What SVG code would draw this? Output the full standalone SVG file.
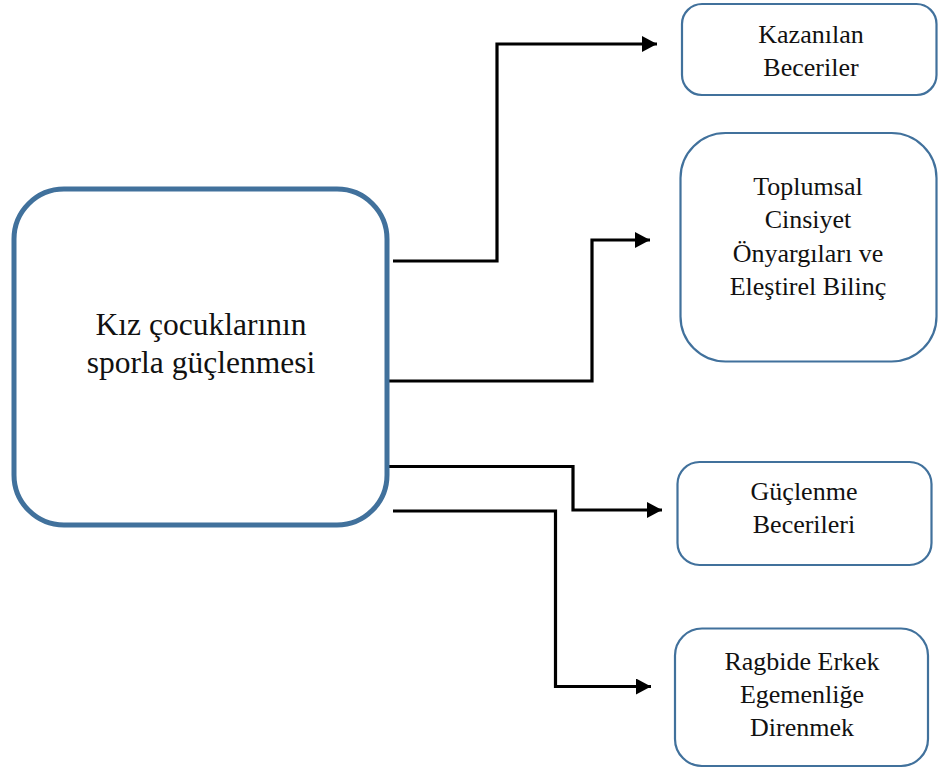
<svg xmlns="http://www.w3.org/2000/svg" width="938" height="769" viewBox="0 0 938 769">
<style>
.box{fill:#fff;stroke:#41719c;stroke-width:2.2}
.main{fill:#fff;stroke:#41719c;stroke-width:5}
.t{font-family:"Liberation Serif","Times New Roman",serif;font-size:26px;fill:#111;text-anchor:middle}
.tm{font-family:"Liberation Serif","Times New Roman",serif;font-size:31.5px;fill:#111;text-anchor:middle}
.c{fill:none;stroke:#000;stroke-width:3.2;marker-end:url(#ah)}
</style>
<defs>
<marker id="ah" markerUnits="userSpaceOnUse" markerWidth="16" markerHeight="17" refX="15" refY="8" orient="auto">
<path d="M0,0 L15,8 L0,16 z" fill="#000"/>
</marker>
</defs>
<rect width="938" height="769" fill="#fff"/>
<g id="connectors">
<path class="c" d="M393,261 H497 V44 H657"/>
<path class="c" d="M389,381 H592 V240 H650"/>
<path class="c" d="M389,466.5 H573 V510 H662"/>
<path class="c" d="M393,511 H555.5 V686.5 H651"/>
</g>
<g id="main">
<rect class="main" x="14" y="189" width="373" height="336" rx="50" ry="50"/>
<text class="tm" x="201" y="335">Kız çocuklarının</text>
<text class="tm" x="201" y="373">sporla güçlenmesi</text>
</g>
<g id="kazanilan">
<rect class="box" x="682" y="4" width="254.5" height="91" rx="20" ry="20"/>
<text class="t" x="811" y="43">Kazanılan</text>
<text class="t" x="811" y="76">Beceriler</text>
</g>
<g id="toplumsal">
<rect class="box" x="680.5" y="133" width="256" height="228.5" rx="45" ry="45"/>
<text class="t" x="808" y="195">Toplumsal</text>
<text class="t" x="808" y="228">Cinsiyet</text>
<text class="t" x="808" y="262">Önyargıları ve</text>
<text class="t" x="808" y="295">Eleştirel Bilinç</text>
</g>
<g id="guclenme">
<rect class="box" x="677.5" y="462" width="254" height="103" rx="22" ry="22"/>
<text class="t" x="804" y="500">Güçlenme</text>
<text class="t" x="804" y="533">Becerileri</text>
</g>
<g id="ragbide">
<rect class="box" x="675" y="628.5" width="253" height="137.5" rx="27" ry="27"/>
<text class="t" x="802" y="670">Ragbide Erkek</text>
<text class="t" x="802" y="703">Egemenliğe</text>
<text class="t" x="802" y="736">Direnmek</text>
</g>
</svg>
